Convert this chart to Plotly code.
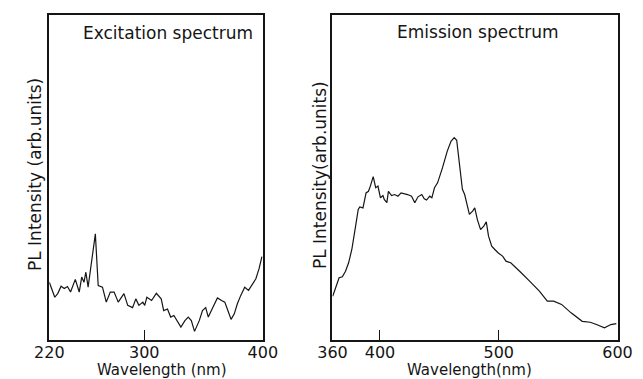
import plotly.graph_objects as go

# Excitation spectrum (wavelength in nm, PL intensity in arbitrary units)
exc_wavelength = [220.0, 224.6, 227.2, 229.9, 232.6, 235.3, 237.9, 241.9, 245.2, 247.3,
                  249.2, 250.8, 252.7, 258.8, 261.2, 264.8, 268.0, 271.4, 274.6, 278.1,
                  282.9, 286.1, 290.2, 292.9, 295.5, 298.8, 300.4, 302.2, 306.2, 310.2,
                  314.3, 316.4, 319.6, 322.3, 325.0, 327.7, 330.9, 334.3, 337.1, 339.7,
                  342.4, 346.4, 349.1, 351.8, 354.0, 357.2, 361.7, 365.2, 367.9, 370.5,
                  373.2, 375.9, 378.5, 381.3, 384.7, 387.9, 390.6, 394.1, 396.8, 399.2]
exc_intensity = [17.6, 13.0, 14.2, 16.4, 15.7, 16.3, 14.6, 18.5, 14.6, 19.2,
                 17.6, 20.7, 16.1, 32.5, 16.6, 16.1, 11.5, 14.6, 14.6, 11.5,
                 14.1, 10.5, 9.8, 12.5, 10.5, 11.5, 10.5, 13.0, 12.0, 14.2,
                 12.5, 8.9, 9.4, 6.9, 7.4, 5.8, 3.8, 5.8, 6.9, 5.8,
                 2.5, 5.8, 8.9, 9.8, 6.9, 9.4, 12.8, 12.0, 11.5, 8.9,
                 6.2, 7.9, 11.0, 13.5, 16.1, 15.1, 16.6, 18.7, 21.8, 25.5]

# Emission spectrum
emi_wavelength = [360.2, 363.0, 365.6, 368.3, 371.0, 373.6, 376.3, 379.0, 381.7, 383.0,
                  385.7, 388.3, 390.3, 391.9, 394.3, 396.4, 398.3, 400.4, 402.5, 403.6,
                  405.8, 407.1, 409.8, 412.4, 415.1, 417.8, 420.4, 423.2, 426.6, 429.3,
                  432.0, 435.2, 437.3, 439.2, 441.9, 443.7, 445.9, 448.5, 452.6, 456.6,
                  459.8, 462.5, 464.6, 467.3, 469.4, 471.3, 473.2, 475.3, 478.0, 479.8,
                  482.0, 484.7, 487.4, 489.5, 491.4, 494.1, 496.7, 499.4, 503.4, 506.1,
                  510.1, 514.1, 517.6, 526.2, 534.2, 540.9, 546.2, 552.9, 560.9, 570.3,
                  577.0, 582.3, 589.0, 594.4, 599.0]
emi_intensity = [13.3, 16.4, 19.0, 19.3, 21.0, 23.6, 27.7, 33.8, 40.0, 40.8,
                 40.5, 45.1, 45.6, 47.2, 50.1, 46.7, 47.2, 43.6, 44.3, 43.1,
                 42.1, 45.6, 44.3, 44.6, 44.1, 45.1, 44.9, 44.6, 44.1, 42.1,
                 43.9, 44.6, 43.3, 42.9, 44.1, 43.6, 46.7, 48.2, 52.8, 57.9,
                 61.0, 62.1, 61.3, 53.3, 46.2, 44.6, 42.1, 38.5, 39.5, 40.5,
                 36.9, 33.8, 34.9, 36.2, 31.8, 28.7, 27.7, 26.7, 25.6, 24.1,
                 23.6, 22.1, 21.0, 17.9, 14.9, 11.8, 11.8, 10.8, 8.2, 5.6,
                 5.3, 4.6, 3.6, 4.6, 4.9]

exc_ticks = [220, 300, 400]
emi_ticks = [360, 400, 500, 600]

W, H = 643, 379
FONT = "DejaVu Sans"
INK = "#151515"


def px(x):
    return x / W


def py(y):
    return 1 - y / H


fig = go.Figure()
fig.add_trace(go.Scatter(x=exc_wavelength, y=exc_intensity, mode="lines",
                         line=dict(color=INK, width=1.2), xaxis="x", yaxis="y",
                         showlegend=False, hoverinfo="skip"))
fig.add_trace(go.Scatter(x=emi_wavelength, y=emi_intensity, mode="lines",
                         line=dict(color=INK, width=1.2), xaxis="x2", yaxis="y2",
                         showlegend=False, hoverinfo="skip"))

frame = dict(showline=True, linecolor=INK, linewidth=1.8, mirror=True,
             showgrid=False, zeroline=False)
xcommon = dict(frame, ticks="inside", ticklen=10, tickwidth=1.4, tickcolor=INK,
               ticklabelstandoff=-3,
               tickfont=dict(family=FONT, size=16, color=INK))
ycommon = dict(frame, range=[0, 100], showticklabels=False, ticks="")

ydom = [py(339.5), py(14.5)]
fig.update_layout(
    width=W, height=H,
    margin=dict(l=0, r=0, t=0, b=0),
    paper_bgcolor="white", plot_bgcolor="white",
    xaxis=dict(xcommon, domain=[px(36), px(260)], range=[220, 400],
               tickvals=exc_ticks, anchor="y"),
    yaxis=dict(ycommon, domain=ydom, anchor="x"),
    xaxis2=dict(xcommon, domain=[px(333), px(632)], range=[360, 600],
                tickvals=emi_ticks, anchor="y2"),
    yaxis2=dict(ycommon, domain=ydom, anchor="x2"),
)

texts = [
    ("Excitation spectrum", 160, 33, 0, 17),
    ("Emission spectrum", 485, 32, 0, 17),
    ("Wavelength (nm)", 154, 370, 0, 15),
    ("Wavelength(nm)", 477, 370, 0, 15),
    ("PL Intensity (arb.units)", 21, 175, -90, 17),
    ("PL Intensity(arb.units)", 320, 175, -90, 17),
]
for txt, x, y, ang, size in texts:
    fig.add_annotation(text=txt, x=px(x), y=py(y), xref="paper", yref="paper",
                       showarrow=False, textangle=ang, xanchor="center", yanchor="middle",
                       font=dict(family=FONT, size=size, color=INK))

fig.write_html("out.html")
